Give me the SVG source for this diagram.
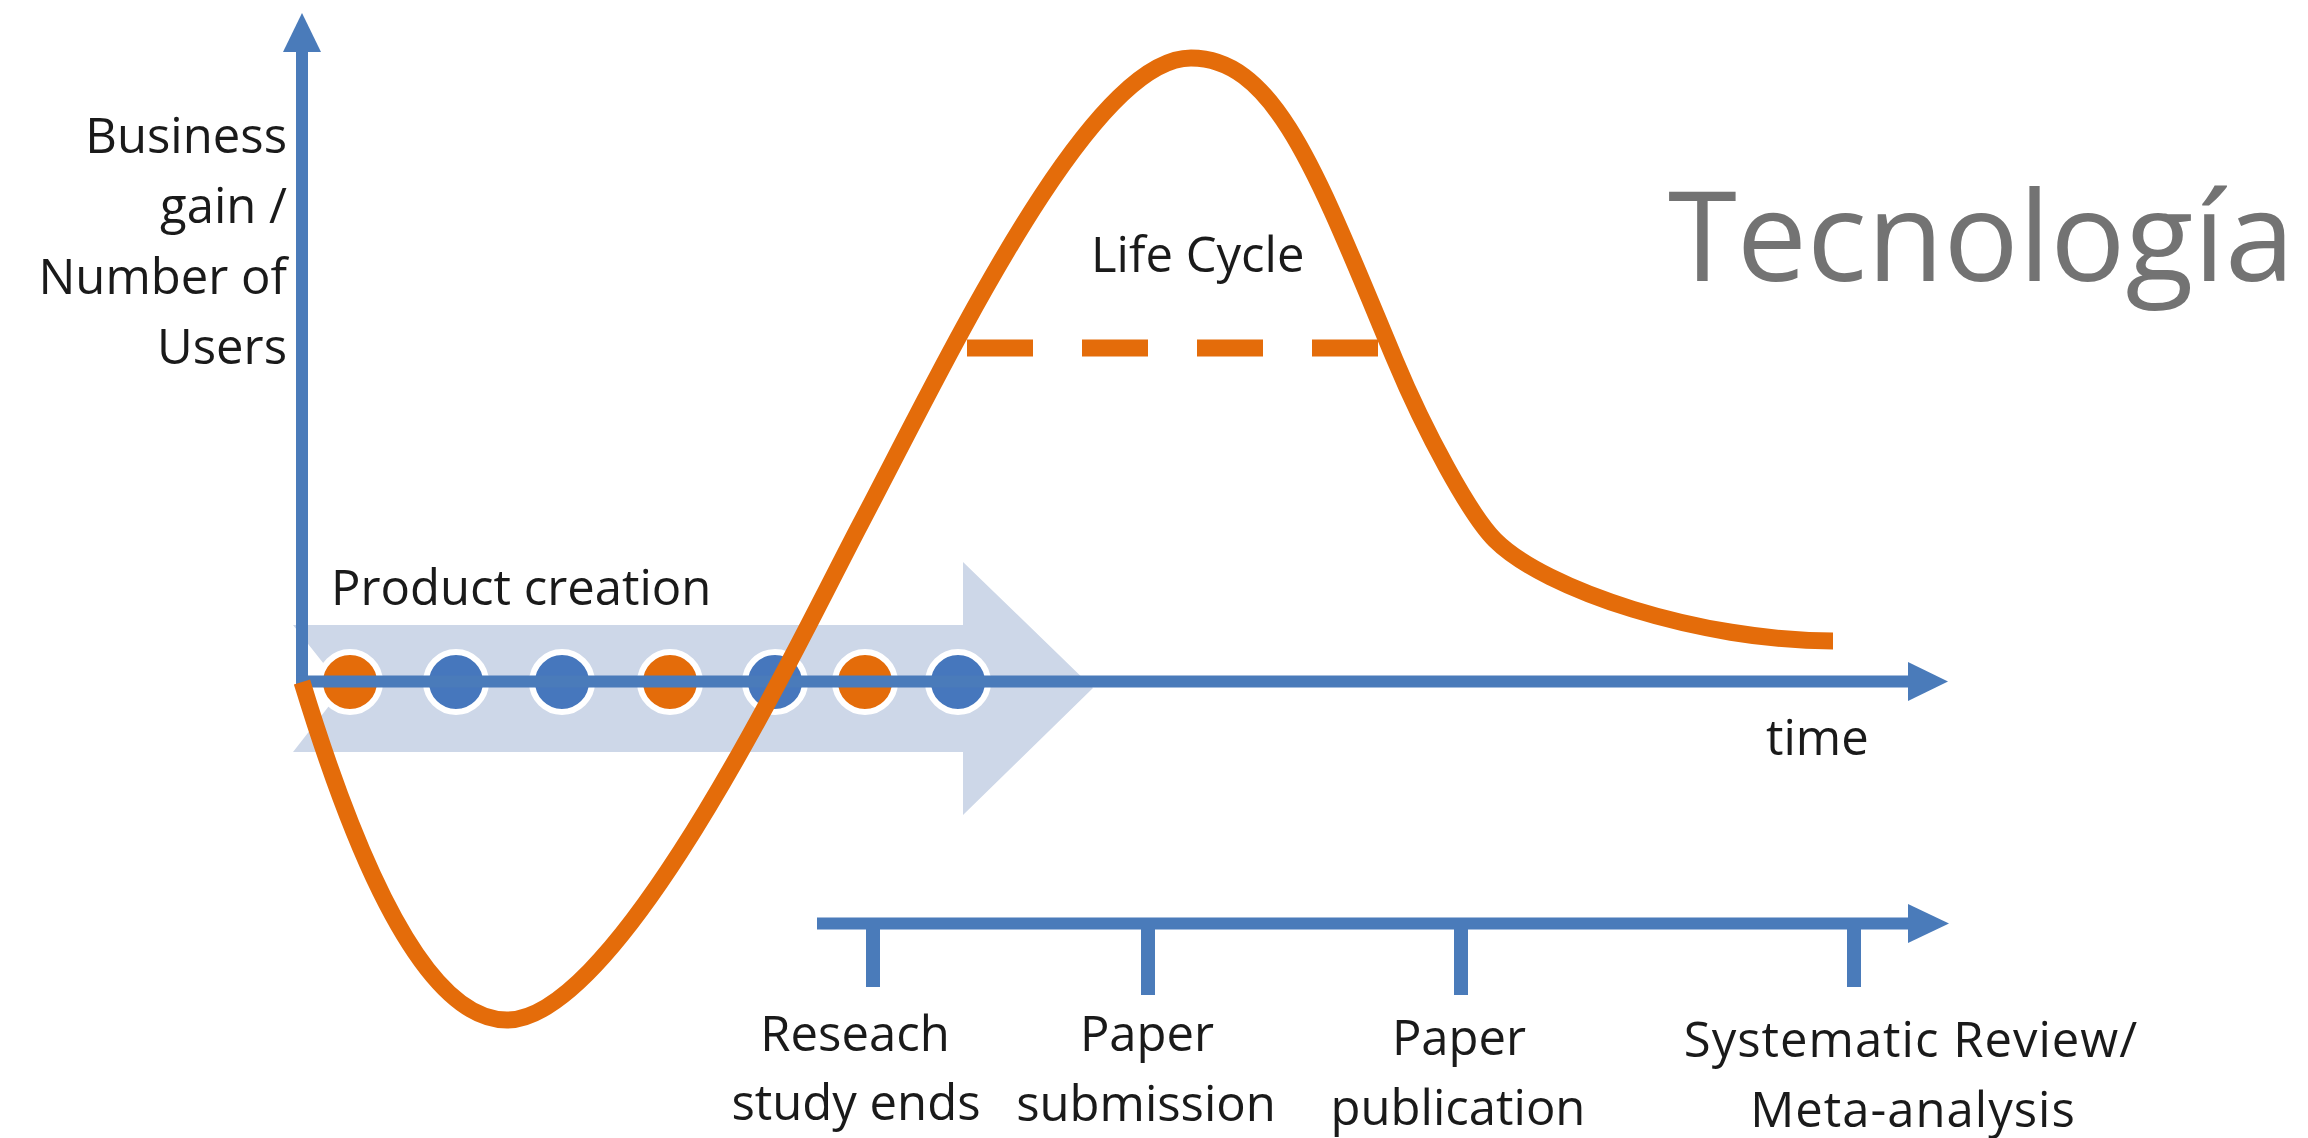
<svg xmlns="http://www.w3.org/2000/svg" width="2308" height="1138" viewBox="0 0 2308 1138">
  <style>
    .axis { stroke: #4A7BBA; stroke-width: 12; fill: none; }
    .tick { stroke: #4A7BBA; stroke-width: 14; fill: none; }
    .head { fill: #4A7BBA; }
    .curve { stroke: #E46C0A; stroke-width: 17; fill: none; stroke-linecap: butt; }
    .dash { stroke: #E46C0A; stroke-width: 17; fill: none; stroke-dasharray: 66 49; }
    .dot { stroke: #FFFFFF; stroke-width: 6; }
    .dot-o { fill: #E46C0A; }
    .dot-b { fill: #4677BD; }
    .lbl { font-family: "Open Sans", "Noto Sans", "Liberation Sans", sans-serif; font-size: 49px; fill: #1A1A1A; }
    .mid { text-anchor: middle; }
    .end { text-anchor: end; }
    .title { font-family: "Open Sans", "Noto Sans", "Liberation Sans", sans-serif; font-size: 125px; fill: #737373; }
  </style>

  <rect x="0" y="0" width="2308" height="1138" fill="#FFFFFF"/>

  <!-- wide pale arrow behind the creation steps -->
  <g id="product-creation">
    <polygon points="293,625 963,625 963,562 1093,688 963,815 963,752 293,752 343,688" fill="#CDD7E8"/>
  </g>

  <!-- creation steps -->
  <g id="steps">
    <circle id="step1" class="dot dot-o" cx="350" cy="682" r="30"/>
    <circle id="step2" class="dot dot-b" cx="456" cy="682" r="30"/>
    <circle id="step3" class="dot dot-b" cx="562" cy="682" r="30"/>
    <circle id="step4" class="dot dot-o" cx="670" cy="682" r="30"/>
    <circle id="step5" class="dot dot-b" cx="775" cy="682" r="30"/>
    <circle id="step6" class="dot dot-o" cx="865" cy="682" r="30"/>
    <circle id="step7" class="dot dot-b" cx="958" cy="682" r="30"/>
  </g>

  <!-- chart axes -->
  <g id="connectors">
    <line class="axis" x1="302" y1="688" x2="302" y2="50"/>
    <polygon class="head" points="283,52 302,13 321,52"/>
    <line class="axis" x1="296" y1="681.5" x2="1910" y2="681.5"/>
    <polygon class="head" points="1908,662 1948,681.5 1908,701"/>

    <!-- publication timeline -->
    <line class="axis" x1="817" y1="923.5" x2="1910" y2="923.5"/>
    <polygon class="head" points="1908,904 1949,923.5 1908,943"/>
    <line class="tick" x1="873" y1="923" x2="873" y2="987"/>
    <line class="tick" x1="1148" y1="923" x2="1148" y2="995"/>
    <line class="tick" x1="1461" y1="923" x2="1461" y2="995"/>
    <line class="tick" x1="1854" y1="923" x2="1854" y2="987"/>

    <!-- business gain over time -->
    <path class="curve" d="M302,682 C335,790 410,1020 507,1020 C620,1020 800,639 860,525 C950,354 1090,58 1191,58 C1276,58 1318,176 1395,360 C1425,432 1470,515 1495,540 C1545,590 1700,641 1833,641"/>
    <line class="dash" x1="967" y1="348" x2="1378" y2="348"/>
  </g>

  <g id="label-y">
    <text class="lbl end" x="287" y="153">Business</text>
    <text class="lbl end" x="287" y="223">gain /</text>
    <text class="lbl end" x="287" y="294">Number of</text>
    <text class="lbl end" x="287" y="364">Users</text>
  </g>
  <g id="label-creation"><text class="lbl" x="331" y="605">Product creation</text></g>
  <g id="label-lifecycle"><text class="lbl" x="1091" y="272">Life Cycle</text></g>
  <g id="label-time"><text class="lbl" x="1766" y="755">time</text></g>

  <g id="milestone-1">
    <text class="lbl mid" x="855" y="1051">Reseach</text>
    <text class="lbl mid" x="856" y="1120">study ends</text>
  </g>
  <g id="milestone-2">
    <text class="lbl mid" x="1147" y="1051">Paper</text>
    <text class="lbl mid" x="1146" y="1121">submission</text>
  </g>
  <g id="milestone-3">
    <text class="lbl mid" x="1459" y="1055">Paper</text>
    <text class="lbl mid" x="1458" y="1125">publication</text>
  </g>
  <g id="milestone-4">
    <text class="lbl mid" x="1911" y="1057" letter-spacing="1">Systematic Review/</text>
    <text class="lbl mid" x="1913" y="1127" letter-spacing="1">Meta-analysis</text>
  </g>

  <g id="title"><text class="title" x="1668" y="281">Tecnología</text></g>
</svg>
